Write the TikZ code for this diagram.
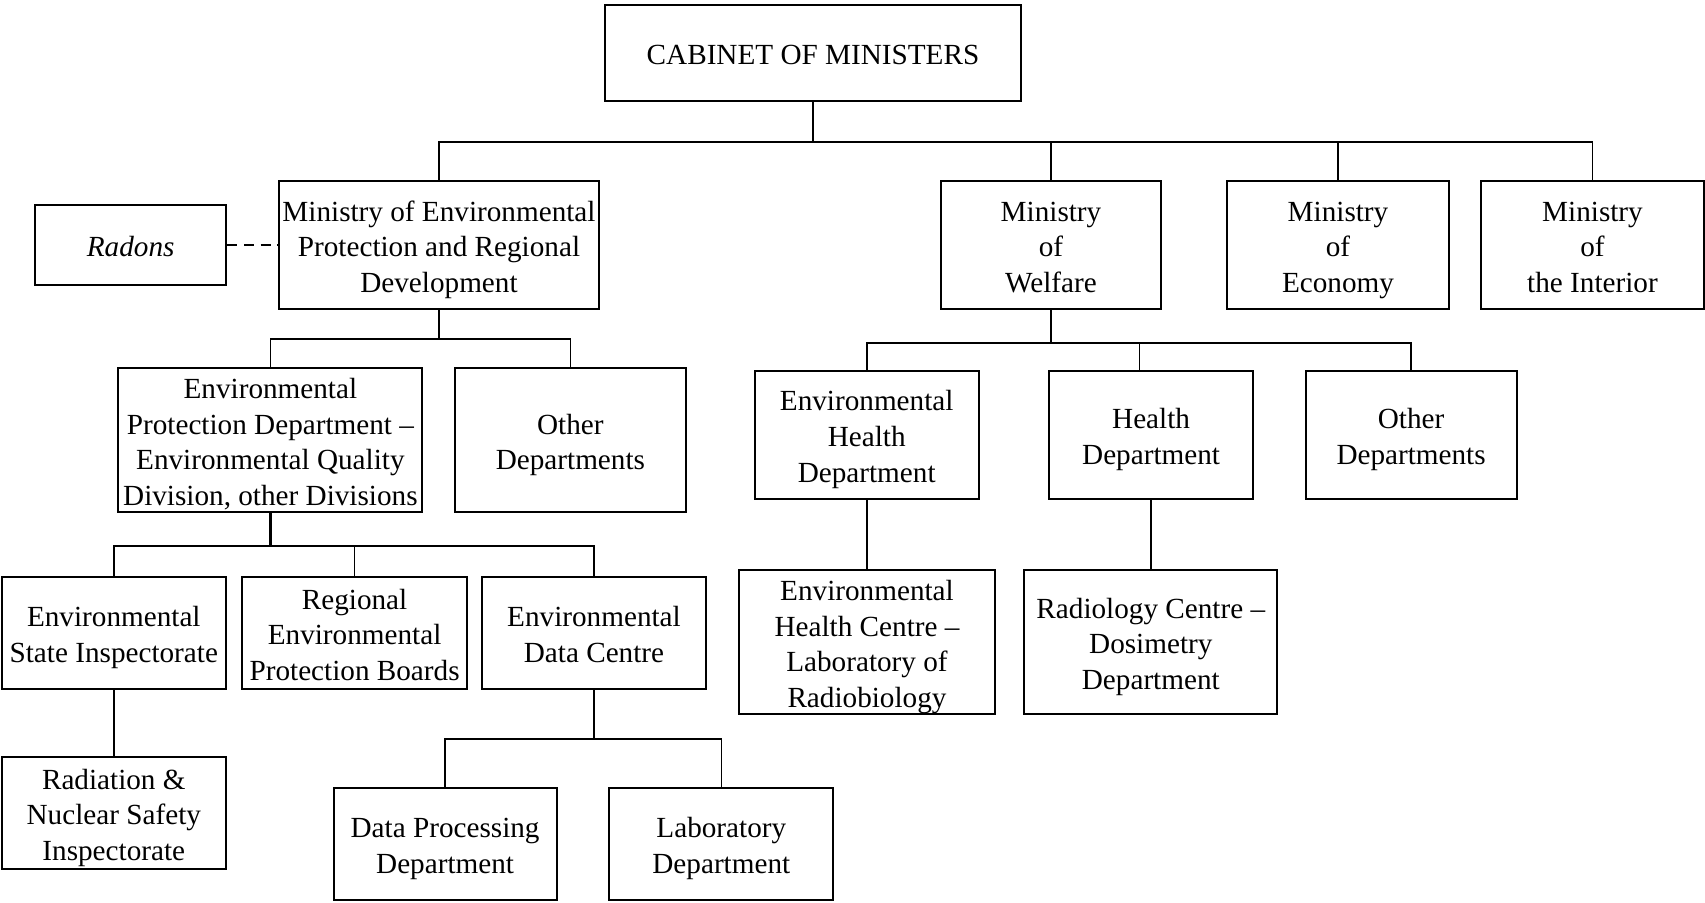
\documentclass[tikz,border=0pt]{standalone}
\usepackage{fontspec}
\setmainfont{Liberation Serif}
\usetikzlibrary{calc}
% invisible rule giving the first line of a box a fixed height
\newcommand{\tallstrut}{\rule{0pt}{15pt}}
\tikzset{
  unit/.style={x=0.5pt,y=-0.5pt},
  box/.style={draw, line width=1pt, inner sep=0pt, align=center,
    font=\fontsize{14.6pt}{17.8pt}\selectfont,
    execute at end node={\rule[-3.3pt]{0pt}{3.3pt}}},
  oneline/.style={execute at begin node={\rule{0pt}{15.2pt}}},
  link/.style={line width=0.8pt},
  stem/.style={line width=1.3pt},
  dashlink/.style={line width=0.8pt, dash pattern=on 5pt off 3.3pt}
}
\begin{document}
\begin{tikzpicture}[unit]
\useasboundingbox (0,0) rectangle (1705,903);

% top level
\node[box, oneline, minimum width=208pt, minimum height=48pt] (cab) at (813,53) {CABINET OF MINISTERS};

% ministries
\node[box, minimum width=160pt, minimum height=64pt] (mep) at (439,245)
  {\tallstrut Ministry of Environmental\\Protection and Regional\\Development};
\node[box, oneline, minimum width=95.75pt, minimum height=40pt] (rad) at (130.7,245) {\itshape Radons};
\node[box, minimum width=110pt, minimum height=64pt] (mw) at (1051,245) {\tallstrut Ministry\\of\\Welfare};
\node[box, minimum width=111pt, minimum height=64pt] (me) at (1338,245) {\tallstrut Ministry\\of\\Economy};
\node[box, minimum width=111.5pt, minimum height=64pt] (mi) at (1592.5,245) {\tallstrut Ministry\\of\\the Interior};

% environmental ministry branch
\node[box, minimum width=152pt, minimum height=72pt] (epd) at (270.4,440.2)
  {\tallstrut Environmental\\Protection Department --\\Environmental Quality\\Division, other Divisions};
\node[box, minimum width=115.7pt, minimum height=72pt] (od1) at (570.4,440.2) {\tallstrut Other\\Departments};
\node[box, minimum width=112.2pt, minimum height=56pt] (esi) at (113.8,633) {\tallstrut Environmental\\State Inspectorate};
\node[box, minimum width=112.2pt, minimum height=56pt] (reg) at (354.6,633) {\tallstrut Regional\\Environmental\\Protection Boards};
\node[box, minimum width=112pt, minimum height=56pt] (edc) at (594,633) {\tallstrut Environmental\\Data Centre};
\node[box, minimum width=112.2pt, minimum height=56pt] (rni) at (113.8,813) {\tallstrut Radiation \&\\Nuclear Safety\\Inspectorate};
\node[box, minimum width=111.6pt, minimum height=56pt] (dp) at (445.1,844) {\tallstrut Data Processing\\Department};
\node[box, minimum width=111.9pt, minimum height=56pt] (lab) at (721.3,844) {\tallstrut Laboratory\\Department};

% welfare ministry branch
\node[box, minimum width=112.2pt, minimum height=63.9pt] (ehd) at (866.7,434.8) {\tallstrut Environmental\\Health\\Department};
\node[box, minimum width=102.1pt, minimum height=63.9pt] (hd) at (1151.1,434.8) {\tallstrut Health\\Department};
\node[box, minimum width=105.4pt, minimum height=63.9pt] (od2) at (1411.1,434.8) {\tallstrut Other\\Departments};
\node[box, minimum width=127.8pt, minimum height=72.2pt] (ehc) at (867,642.1)
  {\tallstrut Environmental\\Health Centre --\\Laboratory of\\Radiobiology};
\node[box, minimum width=126.5pt, minimum height=72pt] (rc) at (1150.8,642)
  {\tallstrut Radiology Centre --\\Dosimetry\\Department};

% bus junctions
\coordinate (cabbus) at ([yshift=-20pt]cab.south);
\coordinate (mepbus) at ([yshift=-14.5pt]mep.south);
\coordinate (epdbus) at ([yshift=-16.3pt]epd.south);
\coordinate (edcbus) at ([yshift=-24.5pt]edc.south);
\coordinate (mwbus)  at ([yshift=-16.65pt]mw.south);
\coordinate (hdin)   at ([xshift=-5.75pt]hd.north);

% connectors
\draw[stem] (cab.south) -- (cabbus);
\draw[link] (mep.north) |- (cabbus) -| (mi.north);
\draw[link] (mw.north) -- (mw.north |- cabbus);
\draw[link] (me.north) -- (me.north |- cabbus);
\draw[dashlink] (rad.east) -- (mep.west);

\draw[stem] (mep.south) -- (mepbus);
\draw[link] (epd.north) |- (mepbus) -| (od1.north);

\draw[stem] (epd.south) -- (epdbus);
\draw[link] (esi.north) |- (epdbus) -| (edc.north);
\draw[link] (reg.north) -- (reg.north |- epdbus);
\draw[link] (esi.south) -- (rni.north);

\draw[stem] (edc.south) -- (edcbus);
\draw[link] (dp.north) |- (edcbus) -| (lab.north);

\draw[stem] (mw.south) -- (mwbus);
\draw[link] (ehd.north) |- (mwbus) -| (od2.north);
\draw[link] (hdin) -- (hdin |- mwbus);
\draw[link] (ehd.south) -- (ehd.south |- ehc.north);
\draw[link] (hd.south) -- (hd.south |- rc.north);
\end{tikzpicture}
\end{document}
